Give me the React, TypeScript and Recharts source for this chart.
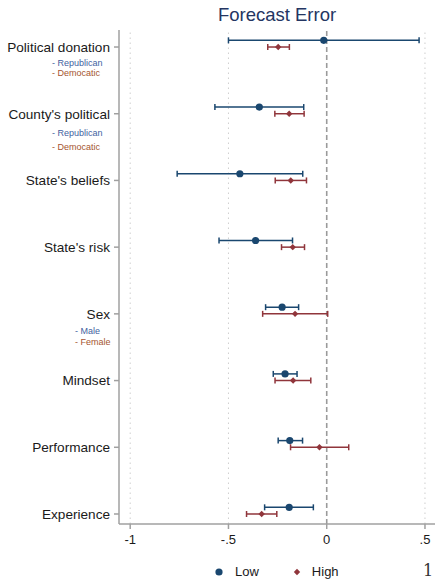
import {
  ErrorBar,
  ReferenceLine,
  Scatter,
  ScatterChart,
  XAxis,
  YAxis,
} from 'recharts';

const categories = [
  'Political donation',
  "County's political",
  "State's beliefs",
  "State's risk",
  'Sex',
  'Mindset',
  'Performance',
  'Experience',
];

// Low group: point estimate and confidence interval
const lowEst = [-0.015, -0.343, -0.442, -0.362, -0.227, -0.212, -0.188, -0.191];
const lowLo = [-0.5, -0.569, -0.761, -0.548, -0.311, -0.272, -0.247, -0.316];
const lowHi = [0.47, -0.117, -0.122, -0.174, -0.143, -0.151, -0.123, -0.068];

// High group
const highEst = [-0.247, -0.191, -0.183, -0.173, -0.161, -0.171, -0.037, -0.331];
const highLo = [-0.3, -0.264, -0.262, -0.23, -0.326, -0.263, -0.184, -0.408];
const highHi = [-0.19, -0.115, -0.103, -0.113, 0.005, -0.081, 0.112, -0.254];

const xTicks = [-1, -0.5, 0, 0.5];
const xTickLabels = ['-1', '-.5', '0', '.5'];

const subLabels: Record<string, [string, string]> = {
  'Political donation': ['- Republican', '- Democatic'],
  "County's political": ['- Republican', '- Democatic'],
  Sex: ['- Male', '- Female'],
};

const LOW = '#1a476f';
const HIGH = '#90353b';
const FONT = '"Liberation Sans", Arial, sans-serif';

const lowData = categories.map((c, i) => ({
  name: c,
  x: lowEst[i],
  y: i + 1 - 0.1,
  err: [lowEst[i] - lowLo[i], lowHi[i] - lowEst[i]],
}));

const highData = categories.map((c, i) => ({
  name: c,
  x: highEst[i],
  y: i + 1,
  err: [highEst[i] - highLo[i], highHi[i] - highEst[i]],
}));

const Dot = (props: any) => (
  <circle cx={props.cx} cy={props.cy} r={3.6} fill={LOW} />
);

const Diamond = (props: any) => {
  const { cx, cy } = props;
  const s = 3.2;
  return (
    <path
      d={`M${cx},${cy - s}L${cx + s},${cy}L${cx},${cy + s}L${cx - s},${cy}Z`}
      fill={HIGH}
    />
  );
};

const CategoryTick = (props: any) => {
  const { x, y, payload } = props;
  const name = categories[payload.value - 1];
  const subs = subLabels[name];
  const subX = name === 'Sex' ? 75 : 52;
  const gaps = name === "County's political" ? [19, 33] : name === 'Sex' ? [17, 28] : [16, 26];
  return (
    <g>
      <text
        x={x - 1}
        y={y}
        dy={4.8}
        textAnchor="end"
        fontSize={13.6}
        fill="#1a1a1a"
        fontFamily={FONT}
      >
        {name}
      </text>
      {subs && (
        <>
          <text x={subX} y={y + gaps[0]} dy={3} fontSize={9} fill="#3f5f9f" fontFamily={FONT}>
            {subs[0]}
          </text>
          <text x={subX} y={y + gaps[1]} dy={3} fontSize={9} fill="#a5552f" fontFamily={FONT}>
            {subs[1]}
          </text>
        </>
      )}
    </g>
  );
};

export default function App() {
  return (
    <div
      style={{
        position: 'absolute',
        left: 0,
        top: 0,
        width: 435,
        height: 580,
        background: '#fff',
        fontFamily: FONT,
        overflow: 'hidden',
      }}
    >
      <div
        style={{
          position: 'absolute',
          left: 119,
          width: 316,
          top: 4,
          textAlign: 'center',
          fontSize: 18.5,
          color: '#243562',
        }}
      >
        Forecast Error
      </div>
      <ScatterChart
        width={435}
        height={580}
        margin={{ top: 30, right: 0, bottom: 0, left: 0 }}
      >
        <XAxis
          type="number"
          dataKey="x"
          domain={[-1.057, 0.551]}
          ticks={xTicks}
          tickFormatter={(v: number) => xTickLabels[xTicks.indexOf(v)]}
          height={56}
          allowDataOverflow
          stroke="#a0a0a0"
          strokeWidth={1.5}
          tickSize={5}
          tickMargin={6}
          tick={{ fill: '#1a1a1a', fontSize: 13, fontFamily: FONT }}
        />
        <YAxis
          type="number"
          dataKey="y"
          reversed
          domain={[0.745, 8.15]}
          ticks={[1, 2, 3, 4, 5, 6, 7, 8]}
          width={119}
          allowDataOverflow
          stroke="#a0a0a0"
          strokeWidth={1.5}
          tickSize={5}
          tickMargin={3}
          tick={<CategoryTick />}
        />
        {[-1, -0.5, 0.5].map((v) => (
          <ReferenceLine
            key={v}
            x={v}
            stroke="#cfcfcf"
            strokeWidth={1}
            strokeDasharray="1.5 3.5"
          />
        ))}
        <ReferenceLine x={0} stroke="#9a9a9a" strokeWidth={1.6} strokeDasharray="5 3" />
        <Scatter data={lowData} shape={Dot} isAnimationActive={false}>
          <ErrorBar
            dataKey="err"
            direction="x"
            width={3}
            stroke={LOW}
            strokeWidth={1.5}
            isAnimationActive={false}
          />
        </Scatter>
        <Scatter data={highData} shape={Diamond} isAnimationActive={false}>
          <ErrorBar
            dataKey="err"
            direction="x"
            width={3}
            stroke={HIGH}
            strokeWidth={1.5}
            isAnimationActive={false}
          />
        </Scatter>
      </ScatterChart>
      <div
        style={{
          position: 'absolute',
          top: 564,
          left: 213,
          display: 'flex',
          alignItems: 'center',
          fontSize: 13,
          color: '#1a1a1a',
        }}
      >
        <svg width={12} height={12}>
          <circle cx={6} cy={6} r={3.6} fill={LOW} />
        </svg>
        <span style={{ marginLeft: 10 }}>Low</span>
        <svg width={12} height={12} style={{ marginLeft: 32 }}>
          <path d="M6,2.8L9.2,6L6,9.2L2.8,6Z" fill={HIGH} />
        </svg>
        <span style={{ marginLeft: 9 }}>High</span>
      </div>
      <div
        style={{
          position: 'absolute',
          left: 423,
          top: 561,
          fontFamily: '"DejaVu Serif", serif',
          fontSize: 16,
          color: '#333',
        }}
      >
        1
      </div>
    </div>
  );
}
